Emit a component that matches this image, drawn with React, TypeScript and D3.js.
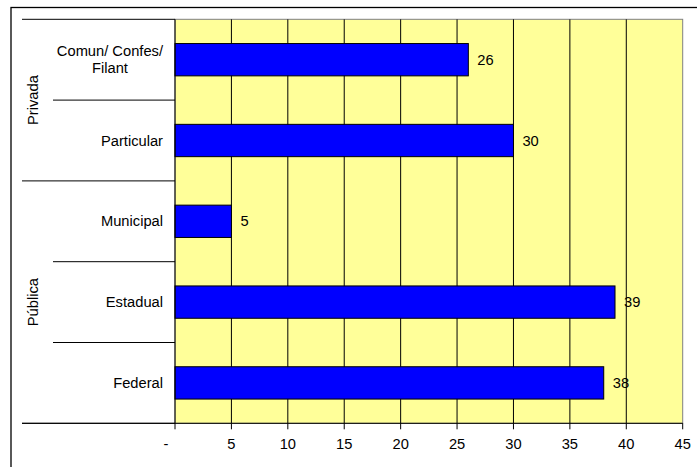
import React from "react";
import * as d3 from "d3";

// Categories top to bottom, their values and their group membership
const categories = ["Comun/ Confes/\nFilant", "Particular", "Municipal", "Estadual", "Federal"];
const values = [26, 30, 5, 39, 38];
const groups = ["Privada", "Pública"];
const groupSizes = [2, 3];
const xTicks = [0, 5, 10, 15, 20, 25, 30, 35, 40, 45];
const xTickLabels = ["-", "5", "10", "15", "20", "25", "30", "35", "40", "45"];

const W = 697;
const H = 467;
const FONT = "Liberation Sans, Arial, sans-serif";
const FS = 14.7;

const plot = { left: 175, right: 682.7, top: 19.3, bottom: 423.3 };

function measure(text: string): number {
  const c = document.createElement("canvas").getContext("2d");
  if (!c) return text.length * FS * 0.5;
  c.font = `${FS}px ${FONT}`;
  return c.measureText(text).width;
}

export default function App() {
  const x = d3.scaleLinear().domain([0, 45]).range([plot.left, plot.right]);
  const y = d3
    .scaleBand<string>()
    .domain(categories)
    .range([plot.top, plot.bottom])
    .padding(0);
  const step = y.step();
  const barH = step * 0.4;

  // group boundaries (in category index units)
  const bounds: number[] = [0];
  groupSizes.forEach((s) => bounds.push(bounds[bounds.length - 1] + s));
  const yAt = (i: number) => plot.top + i * step;

  const labelRight = 163;

  return (
    <svg
      width={W}
      height={H}
      style={{ position: "absolute", left: 0, top: 0, background: "#fff" }}
      fontFamily={FONT}
      fontSize={FS}
    >
      {/* outer frame */}
      <rect x={11} y={7.5} width={W + 20} height={H + 20} fill="none" stroke="#000" strokeWidth={1.3} />

      {/* plot background */}
      <rect
        x={plot.left}
        y={plot.top}
        width={plot.right - plot.left}
        height={plot.bottom - plot.top}
        fill="#FFFF99"
        stroke="#808080"
        strokeWidth={1}
      />

      {/* vertical gridlines */}
      {xTicks.slice(1, -1).map((t) => (
        <line key={"g" + t} x1={x(t)} x2={x(t)} y1={plot.top} y2={plot.bottom} stroke="#000" strokeWidth={1} />
      ))}

      {/* bars */}
      {categories.map((c, i) => (
        <rect
          key={c}
          x={x(0)}
          y={(y(c) as number) + (step - barH) / 2}
          width={x(values[i]) - x(0)}
          height={barH}
          fill="#0000FF"
          stroke="#000"
          strokeWidth={1}
        />
      ))}

      {/* value labels */}
      {categories.map((c, i) => (
        <text key={"v" + c} x={x(values[i]) + 9} y={(y(c) as number) + step / 2} dy="0.35em" fill="#000">
          {values[i]}
        </text>
      ))}

      {/* category axis line */}
      <line x1={plot.left} x2={plot.left} y1={plot.top} y2={plot.bottom} stroke="#000" strokeWidth={1} />

      {/* category separators: long at group bounds, short inside groups */}
      {d3.range(categories.length + 1).map((i) => {
        const isBound = bounds.includes(i);
        return (
          <line
            key={"s" + i}
            x1={isBound ? 22 : 53}
            x2={plot.left}
            y1={yAt(i)}
            y2={yAt(i)}
            stroke="#000"
            strokeWidth={1}
          />
        );
      })}

      {/* value axis */}
      <line x1={22} x2={plot.right} y1={plot.bottom} y2={plot.bottom} stroke="#000" strokeWidth={1} />
      {xTicks.map((t, i) => (
        <g key={"t" + t}>
          <line x1={x(t)} x2={x(t)} y1={plot.bottom} y2={plot.bottom + 6} stroke="#000" strokeWidth={1} />
          <text x={x(t) + (t === 0 ? -9 : 0)} y={444} dy="0.35em" textAnchor="middle" fill="#000">
            {xTickLabels[i]}
          </text>
        </g>
      ))}

      {/* category labels */}
      {categories.map((c) => {
        const lines = c.split("\n");
        const cy = (y(c) as number) + step / 2;
        const maxW = Math.max(...lines.map(measure));
        const lh = 17;
        return (
          <text key={"c" + c} textAnchor="middle" fill="#000">
            {lines.map((ln, k) => (
              <tspan key={k} x={labelRight - maxW / 2} y={cy + (k - (lines.length - 1) / 2) * lh} dy="0.35em">
                {ln}
              </tspan>
            ))}
          </text>
        );
      })}

      {/* group labels */}
      {groups.map((g, gi) => {
        const cy = (yAt(bounds[gi]) + yAt(bounds[gi + 1])) / 2;
        return (
          <text
            key={g}
            transform={`translate(33,${cy}) rotate(-90)`}
            textAnchor="middle"
            dy="0.35em"
            fill="#000"
          >
            {g}
          </text>
        );
      })}
    </svg>
  );
}
